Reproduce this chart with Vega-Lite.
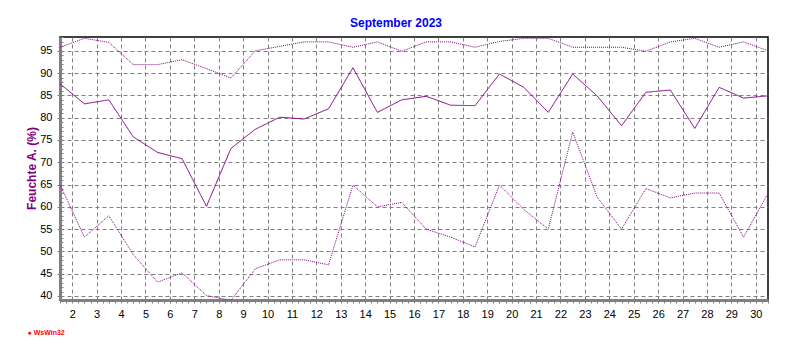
{
  "$schema": "https://vega.github.io/schema/vega-lite/v6.json",
  "autosize": {"type": "none"},
  "padding": {"left": 60, "top": 37, "right": 24, "bottom": 50},
  "width": 708,
  "height": 263,
  "background": "white",
  "title": {
    "text": "September 2023",
    "font": "Liberation Sans",
    "fontSize": 12,
    "fontWeight": "bold",
    "color": "#0000FF",
    "anchor": "middle",
    "dx": -18,
    "dy": 19,
    "baseline": "bottom",
    "offset": 8
  },
  "config": {
    "view": {"stroke": "black", "strokeWidth": 1.5},
    "axis": {
      "labelFont": "Liberation Sans",
      "labelFontSize": 11,
      "labelColor": "black",
      "domainColor": "#808080",
      "domainWidth": 3,
      "tickColor": "#808080",
      "tickWidth": 1,
      "gridColor": "#808080",
      "gridDash": [4, 3],
      "gridWidth": 1
    }
  },
  "data": {
    "values": [
      {"d": 1.5, "mean": 87.6, "max": 95.8, "min": 65.0},
      {"d": 2.5, "mean": 83.1, "max": 97.8, "min": 53.2},
      {"d": 3.5, "mean": 84.0, "max": 96.9, "min": 58.0},
      {"d": 4.5, "mean": 75.7, "max": 91.9, "min": 49.3},
      {"d": 5.5, "mean": 72.2, "max": 91.9, "min": 43.1},
      {"d": 6.5, "mean": 70.8, "max": 93.0, "min": 45.2},
      {"d": 7.5, "mean": 60.1, "max": 91.0, "min": 40.1},
      {"d": 8.5, "mean": 73.1, "max": 88.9, "min": 39.0},
      {"d": 9.5, "mean": 77.4, "max": 95.0, "min": 46.1},
      {"d": 10.5, "mean": 80.1, "max": 96.0, "min": 48.1},
      {"d": 11.5, "mean": 79.7, "max": 97.0, "min": 48.1},
      {"d": 12.5, "mean": 82.0, "max": 97.0, "min": 47.0},
      {"d": 13.5, "mean": 91.2, "max": 95.8, "min": 64.9},
      {"d": 14.5, "mean": 81.2, "max": 97.0, "min": 60.0},
      {"d": 15.5, "mean": 84.0, "max": 94.9, "min": 61.0},
      {"d": 16.5, "mean": 84.8, "max": 97.0, "min": 55.0},
      {"d": 17.5, "mean": 82.8, "max": 97.0, "min": 53.2},
      {"d": 18.5, "mean": 82.7, "max": 95.8, "min": 51.0},
      {"d": 19.5, "mean": 89.8, "max": 97.1, "min": 64.9},
      {"d": 20.5, "mean": 86.8, "max": 97.8, "min": 59.4},
      {"d": 21.5, "mean": 81.2, "max": 97.8, "min": 55.0},
      {"d": 22.5, "mean": 89.8, "max": 95.8, "min": 76.8},
      {"d": 23.5, "mean": 84.9, "max": 95.8, "min": 62.2},
      {"d": 24.5, "mean": 78.2, "max": 95.8, "min": 55.0},
      {"d": 25.5, "mean": 85.7, "max": 94.9, "min": 64.1},
      {"d": 26.5, "mean": 86.2, "max": 97.0, "min": 62.0},
      {"d": 27.5, "mean": 77.6, "max": 97.8, "min": 63.1},
      {"d": 28.5, "mean": 86.8, "max": 95.8, "min": 63.1},
      {"d": 29.5, "mean": 84.4, "max": 97.0, "min": 53.2},
      {"d": 30.5, "mean": 84.9, "max": 95.0, "min": 63.0}
    ]
  },
  "transform": [
    {"fold": ["max", "mean", "min"], "as": ["series", "value"]}
  ],
  "mark": {"type": "line", "color": "#800080", "strokeWidth": 1, "clip": true},
  "encoding": {
    "x": {
      "field": "d",
      "type": "quantitative",
      "scale": {"domain": [1.5, 30.5], "nice": false, "zero": false},
      "axis": {
        "values": [1.5,1.75,2,2.25,2.5,2.75,3,3.25,3.5,3.75,4,4.25,4.5,4.75,5,5.25,5.5,5.75,6,6.25,6.5,6.75,7,7.25,7.5,7.75,8,8.25,8.5,8.75,9,9.25,9.5,9.75,10,10.25,10.5,10.75,11,11.25,11.5,11.75,12,12.25,12.5,12.75,13,13.25,13.5,13.75,14,14.25,14.5,14.75,15,15.25,15.5,15.75,16,16.25,16.5,16.75,17,17.25,17.5,17.75,18,18.25,18.5,18.75,19,19.25,19.5,19.75,20,20.25,20.5,20.75,21,21.25,21.5,21.75,22,22.25,22.5,22.75,23,23.25,23.5,23.75,24,24.25,24.5,24.75,25,25.25,25.5,25.75,26,26.25,26.5,26.75,27,27.25,27.5,27.75,28,28.25,28.5,28.75,29,29.25,29.5,29.75,30,30.25,30.5],
        "labelExpr": "datum.value % 1 === 0 ? datum.value : ''",
        "labelPadding": 5,
        "labelFlush": false,
        "labelOverlap": false,
        "tickSize": 3,
        "grid": true,
        "gridOpacity": {"condition": {"test": "datum.value % 1 !== 0", "value": 0}, "value": 1},
        "title": "● WsWin32",
        "titleColor": "#FF0000",
        "titleFont": "Liberation Sans",
        "titleFontSize": 7,
        "titleFontWeight": "bold",
        "titleAlign": "left",
        "titleAnchor": "start",
        "titleBaseline": "middle",
        "titleX": -33,
        "titleY": 32
      }
    },
    "y": {
      "field": "value",
      "type": "quantitative",
      "scale": {"domain": [39.1, 98.1], "nice": false, "zero": false},
      "axis": {
        "values": [40,41,42,43,44,45,46,47,48,49,50,51,52,53,54,55,56,57,58,59,60,61,62,63,64,65,66,67,68,69,70,71,72,73,74,75,76,77,78,79,80,81,82,83,84,85,86,87,88,89,90,91,92,93,94,95,96,97,98],
        "labelExpr": "datum.value % 5 === 0 ? datum.value : ''",
        "labelPadding": 5,
        "labelFlush": false,
        "labelOverlap": false,
        "tickSize": {"condition": {"test": "datum.value % 5 !== 0", "value": -3}, "value": 3},
        "grid": true,
        "gridOpacity": {"condition": {"test": "datum.value % 5 !== 0", "value": 0}, "value": 1},
        "title": "Feuchte A. (%)",
        "titleColor": "#800080",
        "titleFont": "Liberation Sans",
        "titleFontSize": 12,
        "titleFontWeight": "bold",
        "titleAngle": -90,
        "titleAlign": "center",
        "titleBaseline": "middle",
        "titleX": -29,
        "titleY": 131
      }
    },
    "strokeDash": {
      "field": "series",
      "type": "nominal",
      "scale": {"domain": ["max", "mean", "min"], "range": [[1, 1], [1, 0], [1, 1]]},
      "legend": null
    }
  }
}
